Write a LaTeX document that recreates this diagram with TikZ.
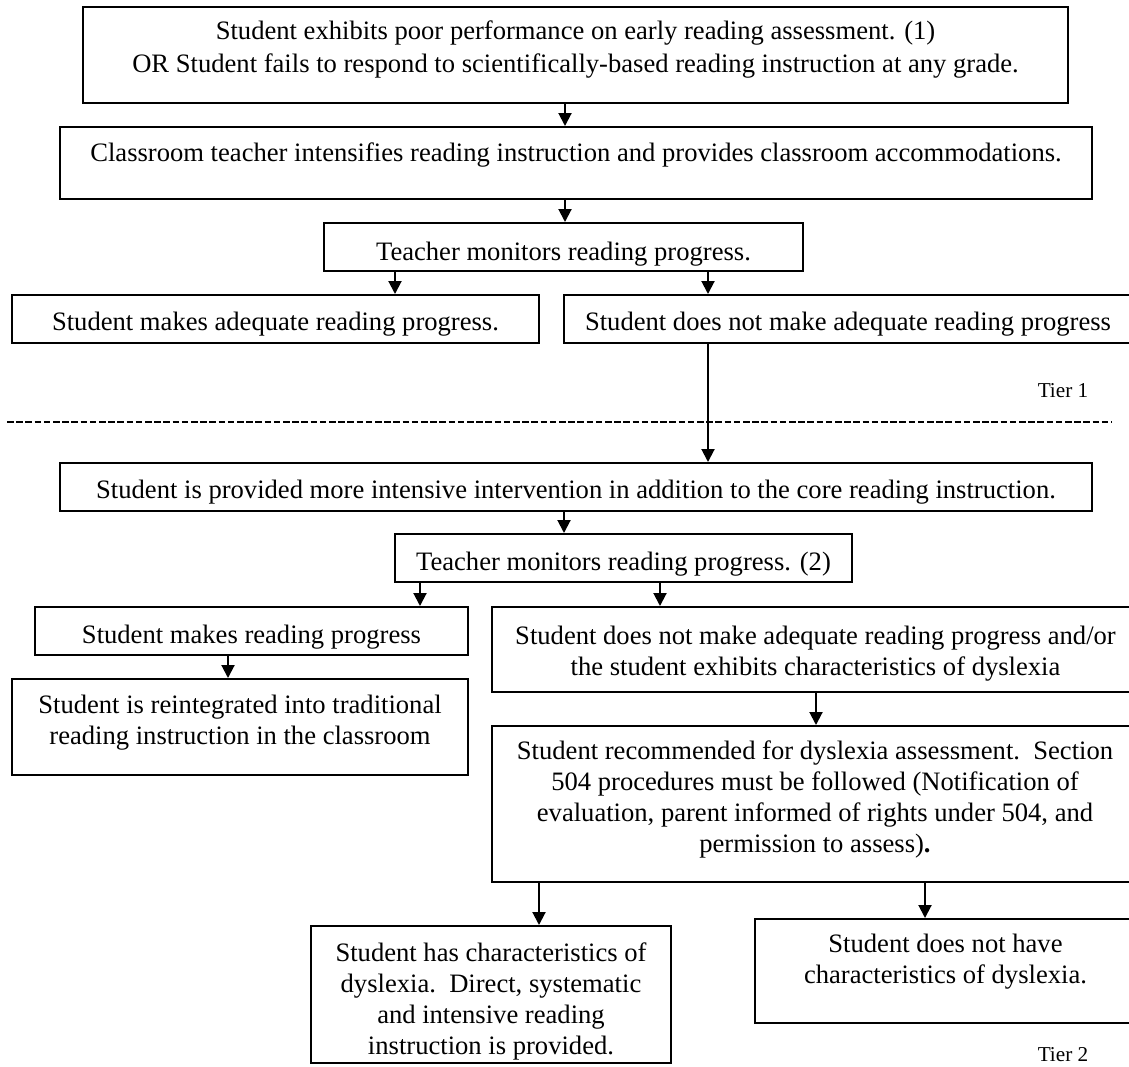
\documentclass[tikz,border=0pt]{standalone}
\usepackage{fontspec}
\setmainfont{Liberation Serif}
\usepackage{tikz}
\usetikzlibrary{arrows.meta}

\begin{document}
\begin{tikzpicture}[x=0.5pt, y=-0.5pt, every node/.style={font=\fontsize{13.3}{15.5}\selectfont},
    flowbox/.style={draw, line width=1pt, align=center, inner sep=2pt},
    flowarrow/.style={-{Triangle[length=6.5pt, width=6.5pt]}, line width=1pt},
    textup/.style={text depth=#1},
    textdown/.style={text height=#1},
    tierlabel/.style={font=\fontsize{10.6}{12}\selectfont}]
    \path[use as bounding box, clip] (0,0) rectangle (1129,1066);
    % Tier 1 boxes
    \node[flowbox, minimum width=492.5pt, minimum height=48pt, textup=8.4pt] (start) at (575.5,55) {Student exhibits poor performance on early reading assessment. (1)\\[1pt]OR Student fails to respond to scientifically-based reading instruction at any grade.};
    \node[flowbox, minimum width=516pt, minimum height=36pt, textup=10.9pt] (intensify) at (576,163) {Classroom teacher intensifies reading instruction and provides classroom accommodations.};
    \node[flowbox, minimum width=239.5pt, minimum height=24pt, textdown=16pt] (monitor) at (563.5,247) {Teacher monitors reading progress.};
    \node[flowbox, minimum width=263.5pt, minimum height=24pt, textdown=14.5pt] (adequate) at (275.5,319) {Student makes adequate reading progress.};
    \node[flowbox, minimum width=284pt, minimum height=24pt, textdown=14.5pt] (notadequate) at (848,319) {Student does not make adequate reading progress};
    % Tier divider
    \node[tierlabel] (tierone) at (1063,391) {Tier 1};
    \draw[line width=1pt, dash pattern=on 3.3pt off 1.3pt] (7,422) -- (1112,422);
    % Tier 2 boxes
    \node[flowbox, minimum width=516pt, minimum height=24pt, textdown=14.5pt] (intervene) at (576,487) {Student is provided more intensive intervention in addition to the core reading instruction.};
    \node[flowbox, minimum width=228.5pt, minimum height=24pt, textdown=15pt] (monitortwo) at (623.5,558) {Teacher monitors reading progress. (2)};
    \node[flowbox, minimum width=216.5pt, minimum height=24pt, textdown=15pt] (progress) at (251.5,631) {Student makes reading progress};
    \node[flowbox, minimum width=323.5pt, minimum height=42.5pt, textdown=28.7pt] (noprogress) at (815.5,649.5) {Student does not make adequate reading progress and/or\\the student exhibits characteristics of dyslexia};
    \node[flowbox, minimum width=228pt, minimum height=48pt, textup=7.4pt] (reintegrate) at (240,727) {Student is reintegrated into traditional\\reading instruction in the classroom};
    \node[flowbox, minimum width=323pt, minimum height=78pt, textup=6.9pt] (recommend) at (815,804) {Student recommended for dyslexia assessment.\ \ Section\\504 procedures must be followed (Notification of\\evaluation, parent informed of rights under 504, and\\permission to assess)\textbf{.}};
    \node[flowbox, minimum width=180pt, minimum height=68.5pt, inner ysep=0pt, textdown=62.7pt] (dyslexic) at (491,994.5) {Student has characteristics of\\dyslexia.\ \ Direct, systematic\\and intensive reading\\instruction is provided.};
    \node[flowbox, minimum width=190.5pt, minimum height=52pt, textup=11.9pt] (notdyslexic) at (945.5,971) {Student does not have\\characteristics of dyslexia.};
    \node[tierlabel] (tiertwo) at (1063,1055) {Tier 2};
    % Arrows
    \draw[flowarrow] (start.south -| 565,0) -- (intensify.north -| 565,0);
    \draw[flowarrow] (intensify.south -| 565,0) -- (monitor.north -| 565,0);
    \draw[flowarrow] (monitor.south -| 395,0) -- (adequate.north -| 395,0);
    \draw[flowarrow] (monitor.south -| 708,0) -- (notadequate.north -| 708,0);
    \draw[flowarrow] (notadequate.south -| 708,0) -- (intervene.north -| 708,0);
    \draw[flowarrow] (intervene.south -| 564,0) -- (monitortwo.north -| 564,0);
    \draw[flowarrow] (monitortwo.south -| 420,0) -- (progress.north -| 420,0);
    \draw[flowarrow] (monitortwo.south -| 660,0) -- (noprogress.north -| 660,0);
    \draw[flowarrow] (progress.south -| 228,0) -- (reintegrate.north -| 228,0);
    \draw[flowarrow] (noprogress.south -| 816,0) -- (recommend.north -| 816,0);
    \draw[flowarrow] (recommend.south -| 539,0) -- (dyslexic.north -| 539,0);
    \draw[flowarrow] (recommend.south -| 925,0) -- (notdyslexic.north -| 925,0);
\end{tikzpicture}
\end{document}
